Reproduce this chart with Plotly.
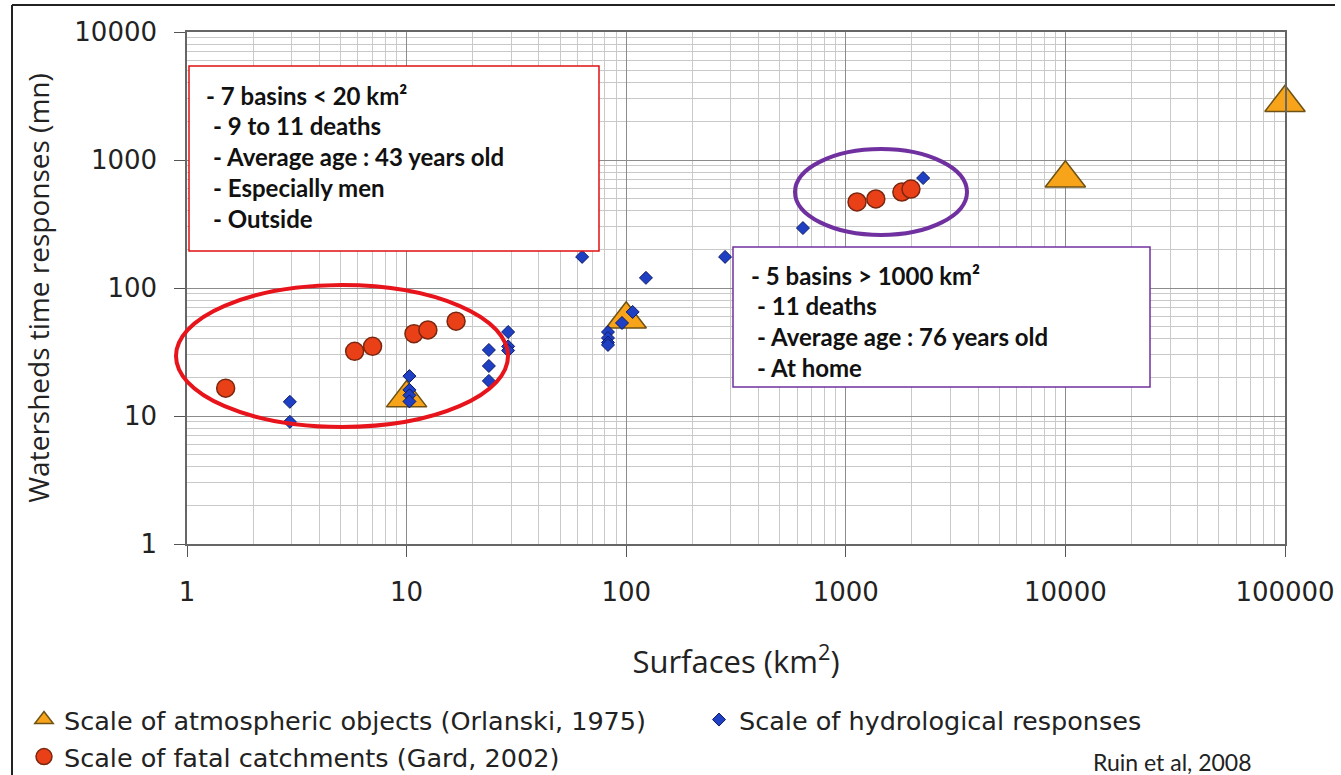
import plotly.graph_objects as go

# ---------------- data ----------------
atmos_x = [10, 100, 10000, 100000]
atmos_y = [13.8, 57, 720, 2800]

hydro_x = [2.94, 2.94, 10.3, 10.3, 10.3, 10.3, 23.7, 23.7, 23.7, 29, 29, 29,
           63, 82.6, 82.6, 82.6, 82.6, 95.7, 107, 123, 282, 638, 2250]
hydro_y = [12.9, 9.0, 20.5, 16, 14.5, 13, 32.8, 24.6, 18.8, 45.3, 35, 32.5,
           175, 45.3, 40.7, 37.5, 35.9, 53.3, 65, 120, 175, 294, 723]

fatal_x = [1.5, 5.8, 7.0, 10.8, 12.5, 16.8, 1125, 1370, 1800, 1980]
fatal_y = [16.5, 32, 35, 44, 47, 55, 470, 496, 562, 593]

x_tickvals = [1, 10, 100, 1000, 10000, 100000]
x_ticktext = ["1", "10", "100", "1000", "10000", "100000"]
y_tickvals = [1, 10, 100, 1000, 10000]
y_ticktext = ["1", "10", "100", "1000", "10000"]

series_names = ["Scale of atmospheric objects (Orlanski, 1975)",
                "Scale of hydrological responses",
                "Scale of fatal catchments (Gard, 2002)"]

box1_lines = ["- 7 basins &lt; 20 km²", "- 9 to 11 deaths",
              "- Average age : 43 years old", "- Especially men", "- Outside"]
box2_lines = ["- 5 basins &gt; 1000 km²", "- 11 deaths",
              "- Average age : 76 years old", "- At home"]

x_title = "Surfaces (km<sup>2</sup>)"
y_title = "Watersheds time responses (mn)"
credit = "Ruin et al, 2008"

# ---------------- layout helpers ----------------
W, H = 1341, 775
L, R, T, B = 187, 56, 32, 231
PW, PH = W - L - R, H - T - B


def px(xp):
    return (xp - L) / PW


def py(yp):
    return (H - B - yp) / PH


fig = go.Figure()

fig.add_trace(go.Scatter(
    x=atmos_x, y=atmos_y, mode="markers", name=series_names[0], legend="legend",
    cliponaxis=False,
    marker=dict(symbol="triangle-up", size=35, color="#f7a41a",
                line=dict(color="#6e5215", width=1.5))))
fig.add_trace(go.Scatter(
    x=hydro_x, y=hydro_y, mode="markers", name=series_names[1], legend="legend2",
    marker=dict(symbol="diamond", size=10, color="#2040c4",
                line=dict(color="#0c1a66", width=1))))
fig.add_trace(go.Scatter(
    x=fatal_x, y=fatal_y, mode="markers", name=series_names[2], legend="legend3",
    marker=dict(symbol="circle", size=18, color="#ea4018",
                line=dict(color="#7a2610", width=1.5))))

axis_common = dict(
    type="log", showline=True, linecolor="#666", linewidth=1.5, mirror=True,
    showgrid=True, gridcolor="#8c8c8c", gridwidth=1.3,
    ticks="outside", ticklen=11, tickcolor="#555", tickwidth=1.3,
    tickfont=dict(family="DejaVu Sans", size=26, color="#222"),
    minor=dict(dtick="D1", showgrid=True, gridcolor="#c9c9c9", gridwidth=1,
               ticks=""),
    zeroline=False,
)

fig.update_xaxes(range=[0, 5], tickvals=x_tickvals, ticktext=x_ticktext,
                 ticklabelstandoff=13,
                 title=dict(text=x_title, standoff=45,
                            font=dict(family="Open Sans", size=31, color="#222")),
                 **axis_common)
fig.update_yaxes(range=[0, 4], tickvals=y_tickvals, ticktext=y_ticktext,
                 ticklabelstandoff=12,
                 title=dict(text=y_title, standoff=17,
                            font=dict(family="Open Sans", size=28, color="#222")),
                 **axis_common)

legend_font = dict(family="DejaVu Sans", size=25.5, color="#222")
fig.update_layout(
    width=W, height=H,
    margin=dict(l=L, r=R, t=T, b=B, autoexpand=False),
    paper_bgcolor="white", plot_bgcolor="white",
    showlegend=True,
    legend=dict(x=px(24), y=py(720), xanchor="left", yanchor="middle",
                font=legend_font, bgcolor="rgba(0,0,0,0)"),
    legend2=dict(x=px(699), y=py(720), xanchor="left", yanchor="middle",
                 font=legend_font, bgcolor="rgba(0,0,0,0)"),
    legend3=dict(x=px(24), y=py(757), xanchor="left", yanchor="middle",
                 font=legend_font, bgcolor="rgba(0,0,0,0)"),
)

# ellipses
fig.add_shape(type="circle", xref="paper", yref="paper",
              x0=px(176), x1=px(508), y0=py(427), y1=py(285),
              line=dict(color="#e8141c", width=4))
fig.add_shape(type="circle", xref="paper", yref="paper",
              x0=px(795), x1=px(967), y0=py(235), y1=py(149),
              line=dict(color="#7030a0", width=4))

# text boxes
fig.add_shape(type="rect", xref="paper", yref="paper",
              x0=px(189), x1=px(599), y0=py(251), y1=py(66),
              line=dict(color="#e01010", width=1.5), fillcolor="white")
fig.add_shape(type="rect", xref="paper", yref="paper",
              x0=px(733), x1=px(1150), y0=py(387), y1=py(247),
              line=dict(color="#7030a0", width=1.5), fillcolor="white")

box_font = dict(family="Lato", size=24, color="#111")
for i, line in enumerate(box1_lines):
    fig.add_annotation(xref="paper", yref="paper",
                       x=px(204 if i == 0 else 211), y=py(95 + i * 30.8),
                       xanchor="left", yanchor="middle", showarrow=False,
                       text="<b>" + line + "</b>", font=box_font)
for i, line in enumerate(box2_lines):
    fig.add_annotation(xref="paper", yref="paper",
                       x=px(749 if i == 0 else 755), y=py(275 + i * 30.7),
                       xanchor="left", yanchor="middle", showarrow=False,
                       text="<b>" + line + "</b>", font=box_font)

fig.add_annotation(xref="paper", yref="paper", x=px(1172), y=py(762),
                   xanchor="center", yanchor="middle", showarrow=False,
                   text=credit, font=dict(family="Lato", size=23, color="#222"))

# outer frame (top and left edges of the slide picture)
fig.add_shape(type="line", xref="paper", yref="paper",
              x0=px(12), x1=px(1335), y0=py(5), y1=py(5),
              line=dict(color="#222", width=2))
fig.add_shape(type="line", xref="paper", yref="paper",
              x0=px(12), x1=px(12), y0=py(5), y1=py(775),
              line=dict(color="#222", width=2))

fig.write_html("out.html",
               config={"displayModeBar": False},
               post_script="document.body.style.margin='0px';"
                           "document.body.style.overflow='hidden';")
